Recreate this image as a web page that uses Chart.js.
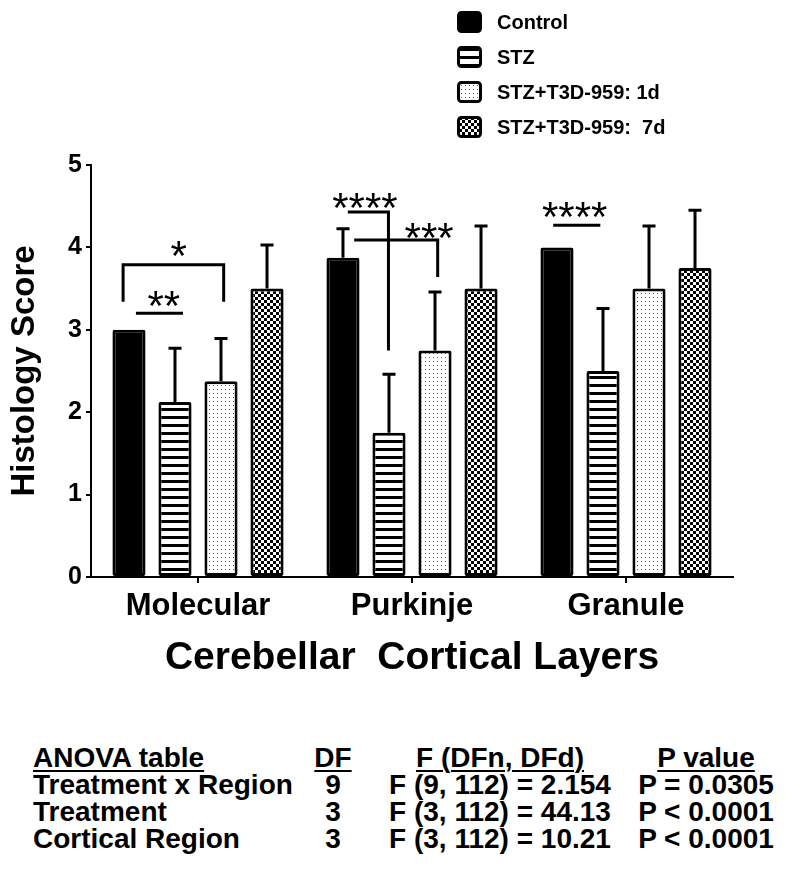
<!DOCTYPE html>
<html>
<head>
<meta charset="utf-8">
<script src="https://cdn.jsdelivr.net/npm/chart.js@4.4.1/dist/chart.umd.min.js"></script>
<style>
  body { margin: 0; background: #fff; width: 800px; height: 884px; position: relative; overflow: hidden;
         font-family: 'Liberation Sans', Arial, sans-serif; }
  #wrap { position: absolute; left: 0; top: 0; width: 800px; height: 700px; }
  .cell { position: absolute; font-weight: bold; font-size: 28px; line-height: 27px; color: #000; white-space: pre; }
  .u { text-decoration: underline; text-decoration-thickness: 2px; text-underline-offset: 3px; }
</style>
</head>
<body>
<div id="wrap"><canvas id="myChart" width="800" height="700"></canvas></div>
<div id="anova"></div>
<script>
  // groups of bars
  const categories = ['Molecular', 'Purkinje', 'Granule'];
  const groupNames = ['Control', 'STZ', 'STZ+T3D-959: 1d', 'STZ+T3D-959:  7d'];

  // mean histology score per layer
  const controlMean = [3.0, 3.875, 4.0];
  const stzMean = [2.125, 1.75, 2.5];
  const day1Mean = [2.375, 2.75, 3.5];
  const day7Mean = [3.5, 3.5, 3.75];

  // error bars (upper only)
  const controlSD = [0, 0.35, 0];
  const stzSD = [0.65, 0.71, 0.76];
  const day1SD = [0.52, 0.71, 0.76];
  const day7SD = [0.53, 0.76, 0.70];

  const yTicks = [0, 1, 2, 3, 4, 5];

  // significance marks, x in category units, y in score units
  const brackets = [
    [[-0.35, 3.34], [-0.35, 3.79], [0.12, 3.79], [0.12, 3.34]],
    [[-0.29, 3.20], [-0.07, 3.20]],
    [[0.70, 4.43], [0.89, 4.43], [0.89, 2.75]],
    [[0.73, 4.09], [1.12, 4.09], [1.12, 3.64]],
    [[1.66, 4.27], [1.88, 4.27]]
  ];
  const starText = ['*', '**', '****', '***', '****'];
  const starX = [-0.09, -0.16, 0.78, 1.08, 1.76];
  const starY = [4.02, 3.41, 4.60, 4.24, 4.49];

  // ANOVA table
  const anovaHeader = ['ANOVA table', 'DF', 'F (DFn, DFd)', 'P value'];
  const anovaSource = ['Treatment x Region', 'Treatment', 'Cortical Region'];
  const anovaDF = ['9', '3', '3'];
  const anovaF = ['F (9, 112) = 2.154', 'F (3, 112) = 44.13', 'F (3, 112) = 10.21'];
  const anovaP = ['P = 0.0305', 'P < 0.0001', 'P < 0.0001'];

  const FONT = "'Liberation Sans', Arial, sans-serif";

  function makePattern(kind) {
    const c = document.createElement('canvas');
    const g = c.getContext('2d');
    if (kind === 'solid') return '#000';
    if (kind === 'stripes') {
      c.width = 8; c.height = 8;
      g.fillStyle = '#fff'; g.fillRect(0, 0, 8, 8);
      g.fillStyle = '#000'; g.fillRect(0, 0, 8, 3);
    } else if (kind === 'dots') {
      c.width = 4; c.height = 4;
      g.fillStyle = '#fff'; g.fillRect(0, 0, 4, 4);
      g.fillStyle = '#555'; g.fillRect(1, 1, 1, 1);
    } else {
      c.width = 6; c.height = 6;
      g.fillStyle = '#fff'; g.fillRect(0, 0, 6, 6);
      g.fillStyle = '#000'; g.fillRect(0, 0, 3, 3); g.fillRect(3, 3, 3, 3);
    }
    return g.createPattern(c, 'repeat');
  }

  const fills = [makePattern('solid'), makePattern('stripes'), makePattern('dots'), makePattern('checker')];
  const means = [controlMean, stzMean, day1Mean, day7Mean];
  const sds = [controlSD, stzSD, day1SD, day7SD];

  const errorBars = {
    id: 'errorBars',
    afterDatasetsDraw(chart) {
      const ctx = chart.ctx, y = chart.scales.y;
      ctx.save();
      ctx.strokeStyle = '#000';
      ctx.lineWidth = 3;
      means.forEach((m, i) => {
        chart.getDatasetMeta(i).data.forEach((bar, j) => {
          const sd = sds[i][j];
          if (!sd) return;
          const top = y.getPixelForValue(m[j] + sd);
          ctx.beginPath();
          ctx.moveTo(bar.x, bar.y);
          ctx.lineTo(bar.x, top);
          ctx.moveTo(bar.x - 6.5, top);
          ctx.lineTo(bar.x + 6.5, top);
          ctx.stroke();
        });
      });
      ctx.restore();
    }
  };

  const significance = {
    id: 'significance',
    afterDatasetsDraw(chart) {
      const ctx = chart.ctx, x = chart.scales.x, y = chart.scales.y;
      ctx.save();
      ctx.strokeStyle = '#000';
      ctx.lineWidth = 3;
      ctx.lineJoin = 'miter';
      brackets.forEach(pts => {
        ctx.beginPath();
        pts.forEach((p, k) => {
          const px = x.getPixelForValue(p[0]), py = y.getPixelForValue(p[1]);
          if (k === 0) ctx.moveTo(px, py); else ctx.lineTo(px, py);
        });
        ctx.stroke();
      });
      ctx.fillStyle = '#000';
      ctx.font = '42px ' + FONT;
      ctx.textAlign = 'center';
      ctx.textBaseline = 'alphabetic';
      starText.forEach((t, k) => {
        ctx.fillText(t, x.getPixelForValue(starX[k]), y.getPixelForValue(starY[k]) + 24);
      });
      ctx.restore();
    }
  };

  const legendBox = {
    id: 'legendBox',
    afterDraw(chart) {
      const ctx = chart.ctx;
      const rows = [22, 57, 92, 127];
      ctx.save();
      ctx.font = 'bold 20px ' + FONT;
      ctx.textBaseline = 'middle';
      ctx.textAlign = 'left';
      groupNames.forEach((name, i) => {
        const cy = rows[i];
        ctx.beginPath();
        ctx.roundRect(458.5, cy - 9.5, 22, 19, 3);
        ctx.fillStyle = fills[i];
        ctx.fill();
        ctx.strokeStyle = '#000';
        ctx.lineWidth = 3;
        ctx.stroke();
        ctx.fillStyle = '#000';
        ctx.fillText(name, 497, cy + 1);
      });
      ctx.restore();
    }
  };

  function plotChart() {
    const ctx = document.getElementById('myChart').getContext('2d');
    new Chart(ctx, {
      type: 'bar',
      data: {
        labels: categories,
        datasets: groupNames.map((name, i) => ({
          label: name,
          data: means[i],
          backgroundColor: fills[i],
          borderColor: '#000',
          borderWidth: 3,
          borderSkipped: false,
          borderRadius: 2,
          barPercentage: 0.72,
          categoryPercentage: 0.86
        }))
      },
      options: {
        responsive: false,
        animation: false,
        events: [],
        layout: { padding: { top: 165, right: 67, left: 0, bottom: 0 } },
        plugins: { legend: { display: false }, tooltip: { enabled: false } },
        scales: {
          x: {
            afterFit: s => { s.height = 123; },
            grid: { display: true, drawOnChartArea: false, offset: false, drawTicks: true,
                    tickLength: 6, color: '#000', lineWidth: 2 },
            border: { display: true, color: '#000', width: 2 },
            ticks: { color: '#000', padding: 5, font: { family: FONT, size: 31, weight: 'bold' } },
            title: { display: true, text: 'Cerebellar  Cortical Layers', color: '#000',
                     padding: { top: 0, bottom: 18 }, font: { family: FONT, size: 39, weight: 'bold' } }
          },
          y: {
            min: 0,
            max: 5,
            afterFit: s => { s.width = 91; },
            afterBuildTicks: s => { s.ticks = yTicks.map(v => ({ value: v })); },
            grid: { display: true, drawOnChartArea: false, drawTicks: true, tickLength: 5,
                    color: '#000', lineWidth: 2 },
            border: { display: true, color: '#000', width: 2 },
            ticks: { color: '#000', padding: 4, font: { family: FONT, size: 25, weight: 'bold' } },
            title: { display: true, text: 'Histology Score', color: '#000',
                     padding: { top: 5, bottom: 0 }, font: { family: FONT, size: 33, weight: 'bold' } }
          }
        }
      },
      plugins: [errorBars, significance, legendBox]
    });
  }

  function buildTable() {
    const host = document.getElementById('anova');
    const cols = [
      { left: 33, width: 280, align: 'left' },
      { left: 283, width: 100, align: 'center' },
      { left: 378, width: 244, align: 'center' },
      { left: 606, width: 200, align: 'center' }
    ];
    const rows = [anovaHeader];
    anovaSource.forEach((s, i) => rows.push([s, anovaDF[i], anovaF[i], anovaP[i]]));
    rows.forEach((row, r) => {
      row.forEach((txt, c) => {
        const d = document.createElement('div');
        d.className = 'cell';
        d.style.left = cols[c].left + 'px';
        d.style.width = cols[c].width + 'px';
        d.style.textAlign = cols[c].align;
        d.style.top = (744 + r * 27) + 'px';
        const span = document.createElement('span');
        if (r === 0) span.className = 'u';
        span.textContent = txt;
        d.appendChild(span);
        host.appendChild(d);
      });
    });
  }

  plotChart();
  buildTable();
</script>
</body>
</html>
